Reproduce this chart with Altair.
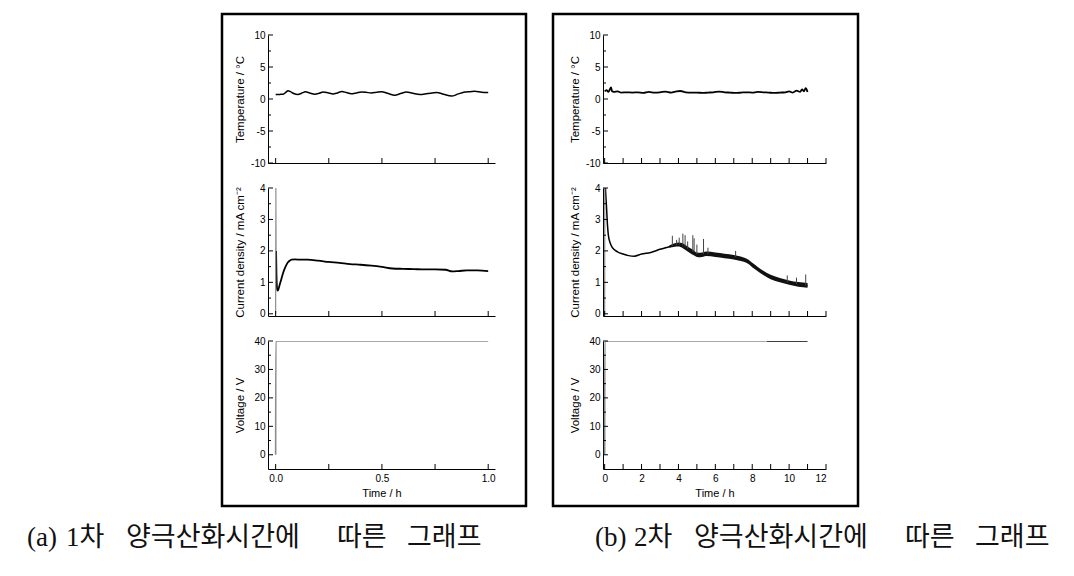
import altair as alt
import pandas as pd

# ---------------- data ----------------
# (a) first anodizing, 1 h
lt_t = [0.0, 0.02, 0.035, 0.048, 0.058, 0.07, 0.085, 0.105, 0.122, 0.141, 0.16, 0.184,
        0.204, 0.223, 0.245, 0.27, 0.29, 0.312, 0.333, 0.356, 0.38, 0.403, 0.425, 0.45,
        0.475, 0.498, 0.53, 0.56, 0.588, 0.615, 0.645, 0.678, 0.715, 0.757, 0.79, 0.827,
        0.86, 0.89, 0.915, 0.937, 0.969, 1.0]
lt_v = [0.7, 0.72, 0.75, 1.05, 1.3, 1.15, 0.85, 0.7, 0.9, 1.12, 0.95, 0.75,
        0.88, 1.08, 0.98, 0.8, 0.95, 1.18, 1.0, 0.82, 0.95, 1.1, 1.05, 0.93,
        1.05, 1.15, 0.85, 0.6, 0.85, 1.08, 0.9, 0.7, 0.85, 1.0, 0.75, 0.45,
        0.8, 1.08, 1.15, 1.22, 1.05, 1.0]

lc0_t = [0.0, 0.0008, 0.002]
lc0_v = [0.0, 4.3, 2.0]
lc_t = [0.002, 0.004, 0.006, 0.008, 0.012, 0.018, 0.027, 0.035, 0.042, 0.05, 0.058, 0.066,
        0.075, 0.09, 0.12, 0.15, 0.2, 0.25, 0.3, 0.35, 0.4, 0.45, 0.5, 0.55, 0.6, 0.65,
        0.7, 0.75, 0.8, 0.83, 0.86, 0.9, 0.95, 1.0]
lc_v = [2.0, 1.2, 0.85, 0.74, 0.76, 0.9, 1.11, 1.3, 1.43, 1.55, 1.64, 1.69,
        1.72, 1.73, 1.72, 1.72, 1.69, 1.65, 1.62, 1.58, 1.56, 1.53, 1.49, 1.44, 1.43, 1.42,
        1.41, 1.41, 1.40, 1.35, 1.36, 1.38, 1.38, 1.36]

lv_t = [0.0, 0.001, 1.0]
lv_v = [0.0, 40.0, 40.0]

# (b) second anodizing, 11 h
rt_t = [0, 0.1, 0.2, 0.3, 0.35, 0.4, 0.5, 0.7, 0.9, 1.2, 1.5, 1.8, 2.1, 2.4, 2.7, 3.0, 3.3,
        3.6, 3.9, 4.1, 4.4, 4.7, 5.0, 5.3, 5.6, 5.9, 6.2, 6.5, 6.8, 7.1, 7.4, 7.7, 8.0, 8.3,
        8.6, 8.9, 9.2, 9.5, 9.8, 10.0, 10.2, 10.4, 10.6, 10.7, 10.8, 10.9, 11.0]
rt_v = [1.2, 1.4, 1.1, 1.6, 1.8, 1.2, 1.1, 1.2, 1.0, 1.05, 1.0, 1.05, 0.95, 1.1, 1.0, 1.05,
        1.15, 1.0, 1.2, 1.25, 1.05, 1.0, 1.0, 0.95, 1.0, 1.05, 1.15, 1.05, 1.0, 0.95, 1.0,
        1.05, 1.0, 1.1, 1.05, 1.0, 0.95, 1.0, 1.05, 1.2, 1.0, 1.3, 1.1, 1.5, 1.2, 1.7, 1.1]

rc0_t = [0.0, 0.008]
rc0_v = [0.0, 4.5]
rc_t = [0.008, 0.05, 0.1, 0.15, 0.2, 0.3, 0.4, 0.5, 0.7, 1.0, 1.3, 1.6, 2.0, 2.5, 3.0,
        3.5, 3.8, 4.0, 4.2, 4.4, 4.6, 4.8, 5.0, 5.2, 5.5, 6.0, 6.5, 7.0, 7.5, 7.8, 8.0,
        8.3, 8.6, 9.0, 9.5, 10.0, 10.5, 11.0]
rc_v = [4.5, 3.9, 3.4, 2.85, 2.5, 2.25, 2.12, 2.05, 1.97, 1.9, 1.85, 1.83, 1.9, 1.95, 2.05,
        2.13, 2.18, 2.2, 2.17, 2.1, 2.02, 1.95, 1.88, 1.87, 1.91, 1.88, 1.84, 1.8, 1.73, 1.65,
        1.55, 1.42, 1.3, 1.17, 1.07, 0.99, 0.93, 0.9]
band_t = [3.5, 3.8, 4.0, 4.2, 4.4, 4.6, 4.8, 5.0, 5.2, 5.5, 6.0, 6.5, 7.0, 7.5, 7.8, 8.0,
          8.3, 8.6, 9.0, 9.5, 10.0, 10.5, 11.0]
band_lo = [2.10, 2.13, 2.14, 2.10, 2.02, 1.94, 1.87, 1.81, 1.80, 1.84, 1.81, 1.77, 1.73,
           1.66, 1.58, 1.48, 1.35, 1.23, 1.10, 1.00, 0.92, 0.86, 0.83]
band_hi = [2.17, 2.24, 2.27, 2.25, 2.18, 2.10, 2.03, 1.95, 1.94, 1.98, 1.95, 1.91, 1.87,
           1.80, 1.72, 1.62, 1.49, 1.37, 1.24, 1.14, 1.06, 1.01, 0.98]
spike_t = [3.67, 3.9, 4.04, 4.24, 4.36, 4.5, 4.78, 4.85, 5.0, 5.36, 5.6, 7.1, 9.9, 10.4, 10.9]
spike_base = [2.16, 2.18, 2.2, 2.17, 2.12, 2.07, 1.98, 1.97, 1.9, 1.9, 1.9, 1.8, 1.0, 0.95, 0.9]
spike_top = [2.48, 2.35, 2.42, 2.55, 2.5, 2.3, 2.5, 2.4, 2.2, 2.38, 2.1, 2.0, 1.22, 1.15, 1.25]

rv0_t = [0.0, 0.01, 8.8]
rv0_v = [0.0, 40.0, 40.0]
rv1_t = [8.8, 11.0]
rv1_v = [40.0, 40.0]

# axis ticks
temp_major = [-10, -5, 0, 5, 10]
temp_minor = [-7.5, -2.5, 2.5, 7.5]
cur_major = [0, 1, 2, 3, 4]
cur_minor = [0.5, 1.5, 2.5, 3.5]
volt_major = [0, 10, 20, 30, 40]
volt_minor = [5, 15, 25, 35]
left_xticks = [0, 0.25, 0.5, 0.75, 1.0]
left_xlabels = [0, 0.5, 1.0]
right_xticks = list(range(0, 13))
right_xlabels = [0, 2, 4, 6, 8, 10, 12]

cap_a = ["(a)", "1차", "양극산화시간에", "따른", "그래프"]
cap_b = ["(b)", "2차", "양극산화시간에", "따른", "그래프"]

# ---------------- layout constants ----------------
FONT = "Liberation Sans"
CJK = "Liberation Serif, Noto Sans CJK KR"
H = 128
WL, WR = 227, 223
cap_px = [27, 66, 126, 337, 407]
cap_shift = 568


def df(t, v):
    return pd.DataFrame({"t": t, "v": v})


def panel(xdom, ydom, width, ymaj, ymin, xticks, xlabels, xfmt, ytitle, show_x, layers):
    xs = alt.Scale(domain=xdom, nice=False, zero=False)
    ys = alt.Scale(domain=ydom, nice=False, zero=False)
    xaxis_kw = dict(ticks=False, tickSize=0, grid=False, domainColor="black", domainWidth=1,
                    labelFont=FONT, labelFontSize=10, labelColor="black", labelPadding=4,
                    titleFont=FONT, titleFontSize=11, titleFontWeight="normal",
                    titleColor="black")
    if show_x:
        xaxis = alt.Axis(values=xlabels, format=xfmt, labels=True, title="Time / h",
                         titleX=width / 2, titleY=24, titleBaseline="middle",
                         **xaxis_kw)
    else:
        xaxis = alt.Axis(values=xlabels, labels=False, title=None, **xaxis_kw)
    yaxis = alt.Axis(values=ymaj, ticks=False, tickSize=0, grid=False, domainColor="black",
                     domainWidth=1, labelFont=FONT, labelFontSize=10, labelColor="black",
                     labelPadding=3, labelExpr="replace(datum.label, '\u2212', '-')",
                     title=ytitle, titleFont=FONT, titleFontSize=11.5,
                     titleFontWeight="normal", titleColor="black", titleX=-28, titleY=H / 2,
                     titleAngle=270, titleBaseline="middle", titleAlign="center")
    X = lambda f: alt.X(f, scale=xs, axis=xaxis)
    Y = lambda f: alt.Y(f, scale=ys, axis=yaxis)
    charts = []
    for kind, data, style in layers:
        if kind == "line":
            m = alt.Chart(data).mark_line(clip=True, interpolate="monotone", **style)
            enc = dict(x=X("t:Q"), y=Y("v:Q"))
        elif kind == "band":
            m = alt.Chart(data).mark_area(clip=True, interpolate="monotone", **style)
            enc = dict(x=X("t:Q"), y=Y("lo:Q"), y2="hi:Q")
        else:  # spikes
            m = alt.Chart(data).mark_rule(clip=True, **style)
            enc = dict(x=X("t:Q"), y=Y("base:Q"), y2="top:Q")
        charts.append(m.encode(**enc))
    # inward ticks
    charts.append(alt.Chart(pd.DataFrame({"v": ymaj})).mark_rule(color="black", strokeWidth=1)
                  .encode(y=Y("v:Q"), x=alt.value(0), x2=alt.value(5)))
    charts.append(alt.Chart(pd.DataFrame({"v": ymin})).mark_rule(color="black", strokeWidth=1)
                  .encode(y=Y("v:Q"), x=alt.value(0), x2=alt.value(3)))
    charts.append(alt.Chart(pd.DataFrame({"t": xticks})).mark_rule(color="black", strokeWidth=1)
                  .encode(x=X("t:Q"), y=alt.value(H), y2=alt.value(H - 5)))
    return charts


def box(x0, x1):
    return (alt.Chart(pd.DataFrame({"b": [0]}))
            .mark_rect(fillOpacity=0, stroke="black", strokeWidth=2.5)
            .encode(x=alt.value(x0), x2=alt.value(x1), y=alt.value(-21), y2=alt.value(471)))


def caption(words, positions, origin):
    out = []
    for w, px in zip(words, positions):
        out.append(alt.Chart(pd.DataFrame({"c": [0]}))
                   .mark_text(font=CJK, fontSize=27, align="left", baseline="alphabetic",
                              color="#111111")
                   .encode(x=alt.value(px - origin), y=alt.value(205), text=alt.value(w)))
    return out


black_line = dict(color="black", strokeWidth=1.5)
gray_line = dict(color="#8c8c8c", strokeWidth=1.6)

LX = [-0.036, 1.032]
RX = [-0.09, 12.0]
TEMP_T = "Temperature / \u00b0C"
CUR_T = "Current density / mA cm\u207b\u00b2"

# left column
lt = alt.layer(*panel(LX, [-10, 10], WL, temp_major, temp_minor, left_xticks, left_xlabels,
                      ".1f", TEMP_T, False, [("line", df(lt_t, lt_v), black_line)]),
               box(-46, 258)).properties(width=WL, height=H)
lc = alt.layer(*panel(LX, [-0.07, 4], WL, cur_major, cur_minor, left_xticks, left_xlabels, ".1f",
                      CUR_T, False,
                      [("line", df(lc_t, lc_v), dict(color="black", strokeWidth=1.8)),
                       ("line", df(lc0_t, lc0_v), dict(color="#8c8c8c", strokeWidth=1.2))])
               ).properties(width=WL, height=H)
lv = alt.layer(*panel(LX, [-5, 40], WL, volt_major, volt_minor, left_xticks, left_xlabels, ".1f",
                      "Voltage / V", True, [("line", df(lv_t, lv_v), gray_line)]),
               *caption(cap_a, cap_px, 268)).properties(width=WL, height=H)

# right column
cap_px_b = [p + cap_shift for p in cap_px]
rt = alt.layer(*panel(RX, [-10, 10], WR, temp_major, temp_minor, right_xticks, right_xlabels,
                      "d", TEMP_T, False,
                      [("line", df(rt_t, rt_v), dict(color="black", strokeWidth=1.8))]),
               box(-50, 255)).properties(width=WR, height=H)
band_df = pd.DataFrame({"t": band_t, "lo": band_lo, "hi": band_hi})
spk_df = pd.DataFrame({"t": spike_t, "base": spike_base, "top": spike_top})
rc = alt.layer(*panel(RX, [-0.07, 4], WR, cur_major, cur_minor, right_xticks, right_xlabels, "d",
                      CUR_T, False,
                      [("line", df(rc_t, rc_v), dict(color="black", strokeWidth=1.5)),
                       ("line", df(rc0_t, rc0_v), dict(color="#8c8c8c", strokeWidth=1.2)),
                       ("band", band_df, dict(color="#111111")),
                       ("spike", spk_df, dict(color="#444444", strokeWidth=1))])
               ).properties(width=WR, height=H)
rv = alt.layer(*panel(RX, [-5, 40], WR, volt_major, volt_minor, right_xticks, right_xlabels, "d",
                      "Voltage / V", True,
                      [("line", df(rv0_t, rv0_v), gray_line),
                       ("line", df(rv1_t, rv1_v), black_line)]),
               *caption(cap_b, cap_px_b, 603)).properties(width=WR, height=H)

chart = (alt.concat(lt, rt, lc, rc, lv, rv, columns=2,
                    spacing={"row": 25, "column": 108}, bounds="flush")
         .properties(padding={"left": 19, "top": 4, "right": 5, "bottom": 5},
                     background="white")
         .configure_view(strokeWidth=0))

chart.save("out.html", embed_options={"renderer": "svg", "actions": False})
